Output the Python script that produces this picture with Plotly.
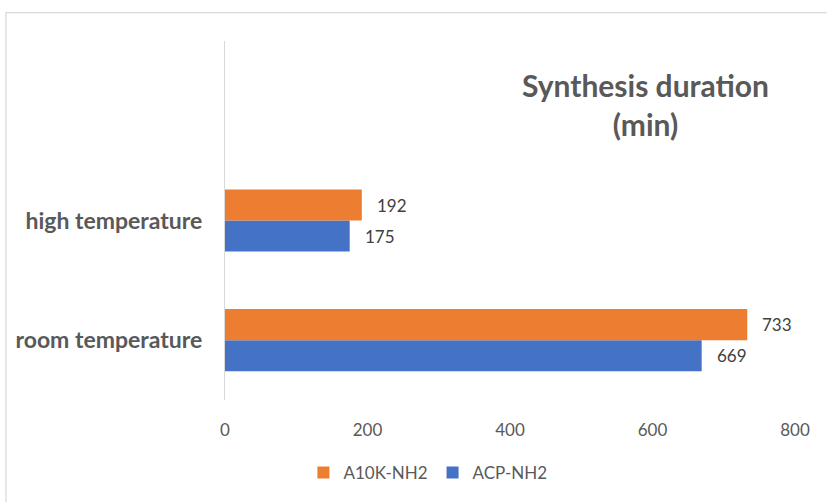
import plotly.graph_objects as go

categories = ["room temperature", "high temperature"]
series_names = ["ACP-NH2", "A10K-NH2"]
acp_values = [669, 175]
a10k_values = [733, 192]
x_ticks = [0, 200, 400, 600, 800]

colors = {"ACP-NH2": "#4472C4", "A10K-NH2": "#ED7D31"}
FONT = "Lato, Open Sans, sans-serif"

fig = go.Figure()
values = {"ACP-NH2": acp_values, "A10K-NH2": a10k_values}
ranks = {"A10K-NH2": 1, "ACP-NH2": 2}
for name in series_names:
    fig.add_trace(go.Bar(
        y=categories, x=values[name], name=name, orientation="h",
        marker=dict(color=colors[name], line=dict(width=0)),
        legendrank=ranks[name], hoverinfo="x+name",
    ))

# data labels
offsets = {"ACP-NH2": -15.5, "A10K-NH2": 15.5}
for name in series_names:
    for cat, v in zip(categories, values[name]):
        fig.add_annotation(x=v, y=cat, xref="x", yref="y", text=str(v),
                           showarrow=False, xanchor="left", yanchor="middle",
                           xshift=13, yshift=offsets[name],
                           font=dict(family=FONT, size=17, color="#404040"))

# title
fig.add_annotation(x=0.737, y=0.822, xref="paper", yref="paper",
                   text="<b>Synthesis duration<br>(min)</b>", showarrow=False,
                   xanchor="center", yanchor="middle", align="center",
                   font=dict(family=FONT, size=30, color="#595959"))

# chart border
fig.add_shape(type="rect", xref="paper", yref="paper",
              x0=-0.3842, x1=2, y0=-1, y1=1.0792,
              line=dict(color="#d9d9d9", width=1.2), fillcolor="rgba(0,0,0,0)",
              layer="below")

fig.update_layout(
    width=827, height=502,
    margin=dict(l=225, r=32, t=41, b=101),
    paper_bgcolor="white", plot_bgcolor="white",
    barmode="group", bargap=0.48, bargroupgap=0,
    showlegend=True,
    legend=dict(orientation="h", x=0.356, y=-0.2, xanchor="center", yanchor="middle",
                font=dict(family=FONT, size=17, color="#595959"),
                traceorder="normal"),
    xaxis=dict(range=[0, 800], tickvals=x_ticks, ticktext=[str(t) for t in x_ticks],
               showgrid=False, zeroline=False, showline=False, ticks="",
               tickfont=dict(family=FONT, size=17, color="#595959"), ticklabelstandoff=18),
    yaxis=dict(type="category", categoryorder="array", categoryarray=categories,
               range=[-0.5, 2.5], showgrid=False, zeroline=False,
               showline=True, linecolor="#d9d9d9", linewidth=1.2, ticks="",
               tickfont=dict(family=FONT, size=23, color="#595959", weight="bold"),
               ticklabelstandoff=17),
)

fig.write_html("out.html", config={"displayModeBar": False},
               post_script="document.body.style.margin='0';document.body.style.overflow='hidden';")
